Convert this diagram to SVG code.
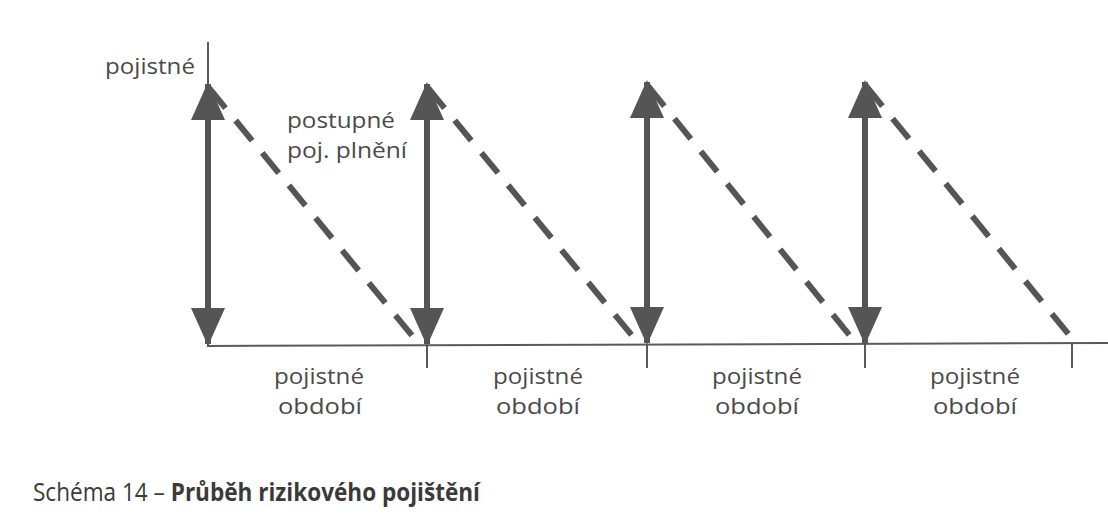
<svg xmlns="http://www.w3.org/2000/svg" width="1108" height="520" viewBox="0 0 1108 520">
<defs>
<style>
.lbl{font-family:"Open Sans","Noto Sans",sans-serif;font-size:22px;fill:#4a4a4a}
.cap{font-family:"Open Sans","Noto Sans",sans-serif;font-size:25px;fill:#3a3a3a}
.axis{stroke:#5a5a5a;stroke-width:2;fill:none}
.arr{stroke:#555;stroke-width:6;fill:none;marker-start:url(#ah);marker-end:url(#ah)}
.dash{stroke:#555;stroke-width:6;fill:none;stroke-dasharray:26 16}
</style>
<marker id="ah" viewBox="0 0 38 34" refX="36" refY="17" markerWidth="38" markerHeight="34" markerUnits="userSpaceOnUse" orient="auto-start-reverse">
<path d="M0,0 L38,17 L0,34 Z" fill="#555"/>
</marker>
</defs>
<rect width="1108" height="520" fill="#fff"/>
<g id="axes">
<line class="axis" x1="208" y1="42" x2="208" y2="346"/>
<line class="axis" x1="207" y1="346" x2="1108" y2="343"/>
<line class="axis" x1="427" y1="345" x2="427" y2="368"/>
<line class="axis" x1="647" y1="344" x2="647" y2="368"/>
<line class="axis" x1="865" y1="344" x2="865" y2="368"/>
<line class="axis" x1="1072" y1="343" x2="1072" y2="368"/>
</g>
<g id="connectors">
<line class="arr" x1="208" y1="84" x2="208" y2="344"/>
<line class="arr" x1="427" y1="84" x2="427" y2="344"/>
<line class="arr" x1="647" y1="82" x2="647" y2="343"/>
<line class="arr" x1="865" y1="82" x2="865" y2="343"/>
<line class="dash" x1="209" y1="88" x2="414" y2="338"/>
<line class="dash" x1="428" y1="88" x2="634" y2="338"/>
<line class="dash" x1="648" y1="86" x2="851" y2="337"/>
<line class="dash" x1="866" y1="86" x2="1070" y2="336"/>
</g>
<g id="label-y">
<text class="lbl" x="105" y="74" textLength="90" lengthAdjust="spacingAndGlyphs">pojistné</text>
</g>
<g id="label-plneni">
<text class="lbl" x="287" y="128" textLength="108" lengthAdjust="spacingAndGlyphs">postupné</text>
<text class="lbl" x="287" y="158" textLength="120" lengthAdjust="spacingAndGlyphs">poj. plnění</text>
</g>
<g id="period-1">
<text class="lbl" x="319" y="384" text-anchor="middle" textLength="90" lengthAdjust="spacingAndGlyphs">pojistné</text>
<text class="lbl" x="320" y="414" text-anchor="middle" textLength="84" lengthAdjust="spacingAndGlyphs">období</text>
</g>
<g id="period-2">
<text class="lbl" x="538" y="384" text-anchor="middle" textLength="90" lengthAdjust="spacingAndGlyphs">pojistné</text>
<text class="lbl" x="538" y="414" text-anchor="middle" textLength="84" lengthAdjust="spacingAndGlyphs">období</text>
</g>
<g id="period-3">
<text class="lbl" x="757" y="384" text-anchor="middle" textLength="90" lengthAdjust="spacingAndGlyphs">pojistné</text>
<text class="lbl" x="757" y="414" text-anchor="middle" textLength="84" lengthAdjust="spacingAndGlyphs">období</text>
</g>
<g id="period-4">
<text class="lbl" x="975" y="384" text-anchor="middle" textLength="90" lengthAdjust="spacingAndGlyphs">pojistné</text>
<text class="lbl" x="975" y="414" text-anchor="middle" textLength="84" lengthAdjust="spacingAndGlyphs">období</text>
</g>
<g id="caption">
<text class="cap" x="33" y="501" textLength="447" lengthAdjust="spacingAndGlyphs">Schéma 14 – <tspan font-weight="bold">Průběh rizikového pojištění</tspan></text>
</g>
</svg>
